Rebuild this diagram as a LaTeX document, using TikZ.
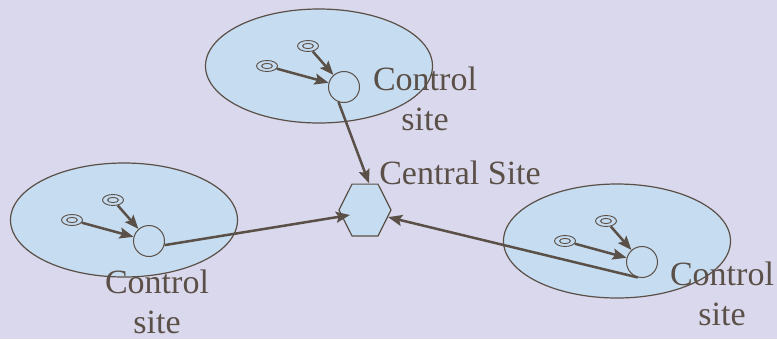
\documentclass[tikz,border=0pt]{standalone}
\usepackage{fontspec}
\setmainfont{Liberation Serif}
\usetikzlibrary{shapes.geometric,arrows.meta,calc}

\definecolor{lavender}{RGB}{217,216,236}
\definecolor{zone}{RGB}{198,220,240}
\definecolor{ink}{RGB}{91,80,72}

\tikzset{
  ctrl/.style={circle,draw=ink,line width=1bp,minimum size=31bp,inner sep=0pt},
  sensor/.style={ellipse,draw=ink,line width=0.9bp,minimum width=21bp,minimum height=11bp,inner sep=0pt,
    path picture={\draw[ink,line width=0.9bp] (path picture bounding box.center) ellipse [x radius=5.5bp,y radius=2.6bp];}},
  feed/.style={draw=ink,line width=2.5bp,-{Stealth[length=14bp,width=11bp,inset=2.5bp]}},
  lbl/.style={text=ink,align=center,font=\fontsize{34bp}{40bp}\selectfont,inner sep=0pt,anchor=base},
}

\begin{document}
\begin{tikzpicture}[x=1bp,y=-1bp]
  \fill[lavender] (0,0) rectangle (777,339);
  \useasboundingbox (0,0) rectangle (777,339);
  % each zone: two sensors reporting to its control site
  \foreach \s/\x/\y in {top/344/87,left/149/241,right/642/262}{
    \draw[fill=zone,draw=ink,line width=1.2bp] (\x-25,\y-21) ellipse [x radius=113.5bp,y radius=57bp];
    \node[ctrl] (ctrl-\s) at (\x,\y) {};
    \node[sensor] (sens-\s-a) at (\x-36,\y-41) {};
    \node[sensor] (sens-\s-b) at (\x-77,\y-21) {};
    \draw[feed] (sens-\s-a) -- (ctrl-\s);
    \draw[feed] (sens-\s-b) -- (ctrl-\s);
  }
  \node[regular polygon,regular polygon sides=6,minimum size=52bp,inner sep=0pt,yscale=1.15,
        fill=zone,draw=ink,line width=1.2bp] (central) at (365,210) {};
  % control sites report to the central site
  \draw[feed] (ctrl-top.-110) -- (central.80);
  \draw[feed] (ctrl-left.-15) -- ($(central.center)+(-15,5)$);
  \draw[feed] (ctrl-right.-105) -- (central.-15);
  % base anchor sits on the last line
  \node[lbl] (lbl-top) at (425,130) {Control\\site};
  \node[lbl] (lbl-left) at (157,333) {Control\\site};
  \node[lbl] (lbl-right) at (722,325) {Control\\site};
  \node[lbl] (lbl-central) at (460,184) {Central Site};
\end{tikzpicture}
\end{document}
